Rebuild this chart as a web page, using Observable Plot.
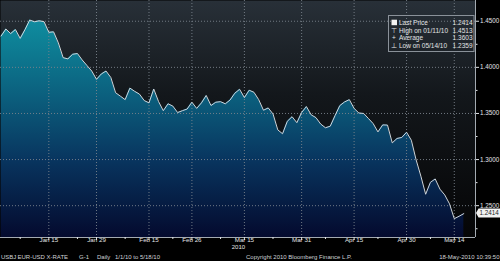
<!DOCTYPE html>
<html><head><meta charset="utf-8">
<script src="https://cdn.jsdelivr.net/npm/d3@7"></script>
<script src="https://cdn.jsdelivr.net/npm/@observablehq/plot@0.6"></script>
<style>
html,body{margin:0;padding:0;background:#000;}
#chart svg{display:block}
</style></head><body><div id="chart"></div>
<script>
// Trading days shown on the chart (x axis is a business-day axis)
const dates = [
"2010-01-01","2010-01-04","2010-01-05","2010-01-06","2010-01-07","2010-01-08",
"2010-01-11","2010-01-12","2010-01-13","2010-01-14","2010-01-15",
"2010-01-18","2010-01-19","2010-01-20","2010-01-21","2010-01-22",
"2010-01-25","2010-01-26","2010-01-27","2010-01-28","2010-01-29",
"2010-02-01","2010-02-02","2010-02-03","2010-02-04","2010-02-05",
"2010-02-08","2010-02-09","2010-02-10","2010-02-11","2010-02-12",
"2010-02-15","2010-02-16","2010-02-17","2010-02-18","2010-02-19",
"2010-02-22","2010-02-23","2010-02-24","2010-02-25","2010-02-26",
"2010-03-01","2010-03-02","2010-03-03","2010-03-04","2010-03-05",
"2010-03-08","2010-03-09","2010-03-10","2010-03-11","2010-03-12",
"2010-03-15","2010-03-16","2010-03-17","2010-03-18","2010-03-19",
"2010-03-22","2010-03-23","2010-03-24","2010-03-25","2010-03-26",
"2010-03-29","2010-03-30","2010-03-31","2010-04-01","2010-04-02",
"2010-04-05","2010-04-06","2010-04-07","2010-04-08","2010-04-09",
"2010-04-12","2010-04-13","2010-04-14","2010-04-15","2010-04-16",
"2010-04-19","2010-04-20","2010-04-21","2010-04-22","2010-04-23",
"2010-04-26","2010-04-27","2010-04-28","2010-04-29","2010-04-30",
"2010-05-03","2010-05-04","2010-05-05","2010-05-06","2010-05-07",
"2010-05-10","2010-05-11","2010-05-12","2010-05-13","2010-05-14",
"2010-05-17","2010-05-18"];
const rates = [
1.4340,1.4416,1.4366,1.4410,1.4314,1.4409,
1.4513,1.4494,1.4505,1.4495,1.4380,
1.4385,1.4265,1.4105,1.4092,1.4142,
1.4150,1.4080,1.4020,1.3960,1.3870,
1.3928,1.3960,1.3890,1.3725,1.3688,
1.3650,1.3775,1.3740,1.3710,1.3640,
1.3615,1.3765,1.3630,1.3530,1.3605,
1.3580,1.3510,1.3530,1.3548,1.3622,
1.3555,1.3615,1.3695,1.3586,1.3622,
1.3628,1.3605,1.3646,1.3720,1.3762,
1.3672,1.3752,1.3730,1.3650,1.3535,
1.3560,1.3495,1.3322,1.3280,1.3415,
1.3465,1.3400,1.3510,1.3575,1.3485,
1.3455,1.3385,1.3345,1.3362,1.3476,
1.3585,1.3625,1.3650,1.3555,1.3505,
1.3500,1.3446,1.3390,1.3300,1.3376,
1.3374,1.3181,1.3229,1.3240,1.3296,
1.3210,1.2997,1.2820,1.2624,1.2753,
1.2790,1.2679,1.2617,1.2520,1.2359,
1.2385,1.2414];

const majorTickDates = ["2010-01-15","2010-01-29","2010-02-15","2010-02-26","2010-03-15","2010-03-31","2010-04-15","2010-04-30","2010-05-14"];
const majorTickLabels = ["Jan 15","Jan 29","Feb 15","Feb 26","Mar 15","Mar 31","Apr 15","Apr 30","May 14"];
const minorTickDates = ["2010-01-07","2010-01-25","2010-02-08","2010-02-22","2010-03-08","2010-03-23","2010-04-07","2010-04-22","2010-05-07"];
const yearLabel = "2010";
const yearLabelDate = "2010-03-15";
const yTicks = [1.25, 1.30, 1.35, 1.40, 1.45];
const yMinorTicks = [1.225, 1.275, 1.325, 1.375, 1.425];
const yDomain = [1.2155, 1.4725];
const xDomain = [-0.13, 99.45];

const legendIcons = ["■", "⊤", "+", "⊥"];
const legendLabels = ["Last Price", "High on 01/11/10", "Average", "Low on 05/14/10"];
const legendValues = ["1.2414", "1.4513", "1.3603", "1.2359"];

const footerLeft = [["USBJ", 1], ["EUR-USD X-RATE", 17.5], ["G-1", 79], ["Daily", 97], ["1/1/10 to 5/18/10", 115]];
const footerCenter = "Copyright 2010 Bloomberg Finance L.P.";
const footerRight = "18-May-2010 10:39:50";

const data = rates.map((v, i) => ({i, date: dates[i], v}));
const idx = d => dates.indexOf(d);
const majorIdx = majorTickDates.map(idx);
const minorIdx = minorTickDates.map(idx);
const labelOf = new Map(majorIdx.map((k, j) => [k, majorTickLabels[j]]));

const FONT = "Liberation Sans, Arial, sans-serif";
const TXT = "#e2e4e6";
const GRID = "#7b848d";

const chart = Plot.plot({
  width: 500, height: 261,
  marginLeft: 0, marginRight: 25, marginTop: 0, marginBottom: 24,
  style: {background: "#000", fontFamily: FONT, color: TXT},
  x: {domain: xDomain, label: null},
  y: {domain: yDomain, label: null},
  marks: [
    Plot.frame({fill: "url(#bgGrad)", stroke: null}),
    Plot.areaY(data, {x: "i", y1: () => yDomain[0], y2: "v", fill: "url(#areaGrad)"}),
    Plot.gridX(majorIdx, {stroke: GRID, strokeOpacity: 0.9, strokeDasharray: "1,2"}),
    Plot.gridY(yTicks, {stroke: GRID, strokeOpacity: 0.9, strokeDasharray: "1,2"}),
    Plot.lineY(data, {x: "i", y: "v", stroke: "#cfd6dc", strokeWidth: 1}),
    Plot.ruleX([xDomain[1]], {stroke: "#a3aab1", strokeWidth: 1}),
    Plot.ruleY([yDomain[0]], {stroke: "#a3aab1", strokeWidth: 1}),
    Plot.axisX(majorIdx, {anchor: "bottom", tickSize: 3, tickPadding: -2.5, tickFormat: d => labelOf.get(d),
      fontSize: 6.2, color: TXT, label: null}),
    Plot.axisX(minorIdx, {anchor: "bottom", tickSize: 2, tickFormat: () => "", color: TXT, label: null}),
    Plot.text([yearLabelDate], {x: d => idx(d), frameAnchor: "bottom", dy: 11.5, dx: -6, text: () => yearLabel,
      fontSize: 6, fill: TXT}),
    Plot.axisY(yTicks, {anchor: "right", tickSize: 3, tickPadding: 1.5, tickFormat: d => d.toFixed(4),
      fontSize: 6.3, color: TXT, label: null}),
    Plot.axisY(yMinorTicks, {anchor: "right", tickSize: 1.5, tickFormat: () => "", color: TXT, label: null})
  ]
});
document.getElementById("chart").appendChild(chart);

const svg = d3.select(chart);
const defs = svg.insert("defs", ":first-child");
const bg = defs.append("linearGradient").attr("id", "bgGrad")
  .attr("gradientUnits", "userSpaceOnUse").attr("x1", 0).attr("y1", 0).attr("x2", 0).attr("y2", 237);
[[0, "#283038"], [0.4, "#13171b"], [1, "#050506"]].forEach(([o, c]) => bg.append("stop").attr("offset", o).attr("stop-color", c));
const ag = defs.append("linearGradient").attr("id", "areaGrad")
  .attr("gradientUnits", "userSpaceOnUse").attr("x1", 0).attr("y1", 0).attr("x2", 0).attr("y2", 237);
[[0, "#1395a9"], [0.15, "#0e8498"], [0.42, "#0b5d7c"], [0.68, "#08345e"], [1, "#040a2e"]].forEach(([o, c]) => ag.append("stop").attr("offset", o).attr("stop-color", c));

// Last price tag on the right axis
const yS = chart.scale("y"), xS = chart.scale("x");
const lastY = yS.apply(rates[rates.length - 1]);
const xr = xS.apply(xDomain[1]);
const tag = svg.append("g").attr("text-anchor", "start");
tag.append("path").attr("d", `M${xr + 1},${lastY} L${xr + 3.5},${lastY - 4.5} L500,${lastY - 4.5} L500,${lastY + 4.5} L${xr + 3.5},${lastY + 4.5} Z`).attr("fill", "#f2f2f2");
tag.append("text").attr("x", xr + 4.5).attr("y", lastY).attr("dy", "0.35em").attr("font-size", 6.3)
  .attr("font-family", FONT).attr("fill", "#222").text(legendValues[0]);

// Legend box
const lg = svg.append("g").attr("font-family", FONT).attr("font-size", 6.5).attr("fill", TXT).attr("text-anchor", "start");
lg.append("rect").attr("x", 388.5).attr("y", 15.5).attr("width", 85.5).attr("height", 36)
  .attr("fill", "none").attr("stroke", "#8a9199");
legendLabels.forEach((lab, j) => {
  const cy = 22.7 + j * 7.7;
  if (j === 0) lg.append("rect").attr("x", 391.5).attr("y", cy - 3).attr("width", 5.5).attr("height", 5.5).attr("fill", "#f4f4f4");
  else lg.append("text").attr("x", 394).attr("y", cy).attr("dy", "0.35em").attr("text-anchor", "middle").text(legendIcons[j]);
  lg.append("text").attr("x", 399).attr("y", cy).attr("dy", "0.35em").attr("text-anchor", "start").text(lab);
  lg.append("text").attr("x", 472.5).attr("y", cy).attr("dy", "0.35em").attr("text-anchor", "end").text(legendValues[j]);
});

// Footer
const ft = svg.append("g").attr("font-family", FONT).attr("font-size", 6).attr("fill", "#cfd2d5").attr("text-anchor", "start");
footerLeft.forEach(([t, x]) => ft.append("text").attr("x", x).attr("y", 257).attr("dy", "0.35em").attr("text-anchor", "start").text(t));
ft.append("text").attr("x", 246).attr("y", 257).attr("dy", "0.35em").attr("text-anchor", "start").text(footerCenter);
ft.append("text").attr("x", 499.5).attr("y", 257).attr("dy", "0.35em").attr("text-anchor", "end").text(footerRight);
</script></body></html>
